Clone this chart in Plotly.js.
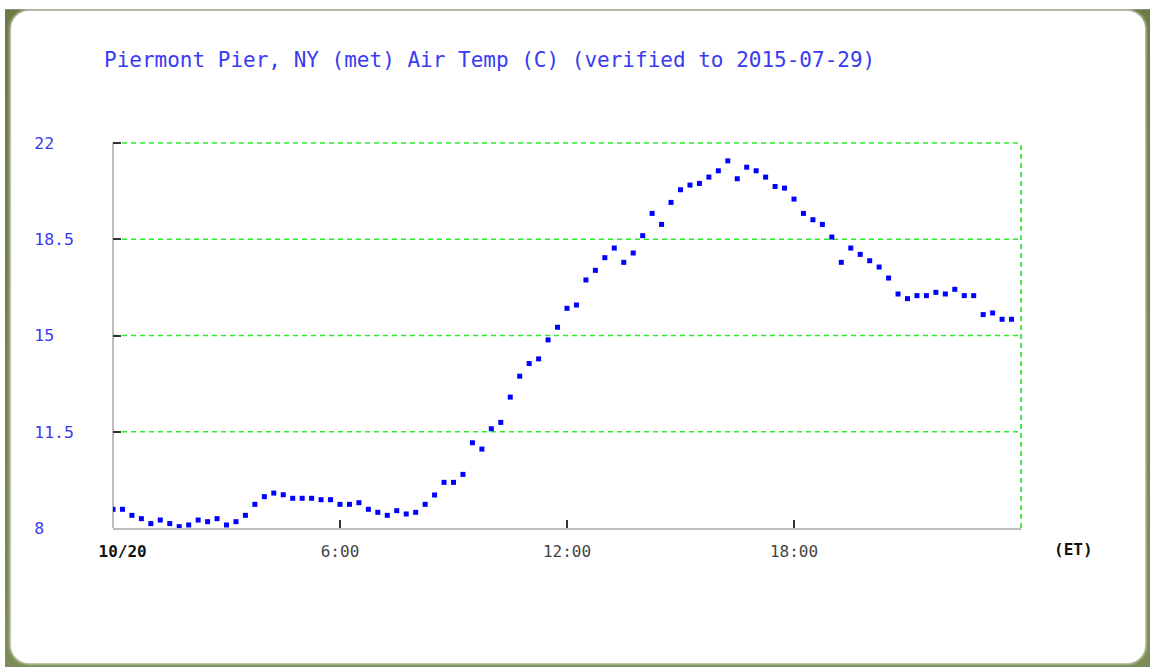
<!DOCTYPE html>
<html>
<head>
<meta charset="utf-8">
<script src="https://cdn.plot.ly/plotly-3.0.1.min.js"></script>
<style>
  html, body { margin: 0; padding: 0; background: #ffffff; }
  #wrap { position: relative; width: 1150px; height: 667px; overflow: hidden; }
  #olive { position: absolute; left: 5px; top: 9px; width: 1145px; height: 658px;
           background: linear-gradient(180deg, #6a7b43 0%, #7b8c55 100%);
           border-top: 1px solid #8a8f80; }
  #panel { position: absolute; left: 11px; top: 11px; width: 1134px; height: 652px;
           background: #ffffff; border-radius: 18px; box-shadow: 0 0 3px 1px rgba(255,255,255,0.8); }
  #chart { position: absolute; left: 0; top: 0; width: 1150px; height: 667px; }
</style>
</head>
<body>
<div id="wrap">
  <div id="olive"></div>
  <div id="panel"></div>
  <div id="chart"></div>
</div>
<script>
// Sampling: 15-minute readings starting at 00:00 on 10/20 (hours since midnight)
const START_HOUR = 0;
const STEP_HOURS = 0.25;

// Air temperature (C)
const airTempC = [
  8.68, 8.68, 8.46, 8.34, 8.16, 8.29, 8.16, 8.05, 8.11, 8.29,
  8.23, 8.34, 8.11, 8.23, 8.46, 8.86, 9.14, 9.27, 9.21, 9.08,
  9.08, 9.08, 9.03, 9.03, 8.86, 8.86, 8.92, 8.68, 8.57, 8.46,
  8.63, 8.51, 8.57, 8.86, 9.20, 9.66, 9.66, 9.95, 11.10, 10.87,
  11.61, 11.84, 12.76, 13.52, 13.98, 14.15, 14.84, 15.30, 15.99, 16.11,
  17.02, 17.37, 17.83, 18.18, 17.66, 18.00, 18.63, 19.44, 19.04, 19.84,
  20.30, 20.47, 20.53, 20.76, 20.99, 21.35, 20.70, 21.12, 20.99, 20.76,
  20.42, 20.36, 19.96, 19.44, 19.21, 19.04, 18.58, 17.66, 18.18, 17.95,
  17.72, 17.49, 17.09, 16.51, 16.34, 16.45, 16.45, 16.57, 16.51, 16.68,
  16.45, 16.45, 15.76, 15.82, 15.59, 15.59
];

const hours = airTempC.map((_, i) => START_HOUR + i * STEP_HOURS);

const xTickVals = [0, 6, 12, 18];
const xTickText = ['\u00a0\u00a0<span style="color:#111111"><b>10/20</b></span>', '6:00', '12:00', '18:00'];

const yTickVals = [8, 11.5, 15, 18.5, 22];
const yTickText = ['8\u00a0\u00a0\u00a0', '11.5', '15\u00a0\u00a0', '18.5', '22\u00a0\u00a0'];
const yGridVals = [11.5, 15, 18.5, 22];

const titleText = 'Piermont Pier, NY (met) Air Temp (C) (verified to 2015-07-29)';
const unitText = '<b>(ET)</b>';

const mono = '"DejaVu Sans Mono", "Liberation Mono", monospace';
const GRID_GREEN = '#2ee82e';
const Y_PAD = 2 / 27.5;   // 2px of headroom so the top grid line is not clipped

const trace = {
  x: hours,
  y: airTempC,
  type: 'scatter',
  mode: 'markers',
  marker: { symbol: 'square', size: 5, color: '#0000ff', line: { width: 0 } },
  hoverinfo: 'skip'
};

const gridShapes = yGridVals.map(v => ({
  type: 'line', xref: 'paper', yref: 'y',
  x0: 0, x1: 1, y0: v, y1: v, layer: 'below',
  line: { color: GRID_GREEN, width: 1.7, dash: '5px,4px' }
}));

const layout = {
  width: 1150,
  height: 667,
  margin: { l: 113, r: 129, t: 141, b: 139 },
  paper_bgcolor: 'rgba(0,0,0,0)',
  plot_bgcolor: 'rgba(0,0,0,0)',
  showlegend: false,
  title: {
    text: titleText,
    font: { family: mono, size: 21, color: '#3a3af2' },
    xref: 'container', x: 104 / 1150, xanchor: 'left',
    yref: 'container', y: 1 - 60 / 667, yanchor: 'middle'
  },
  xaxis: {
    range: [0, 24],
    showgrid: false,
    zeroline: false,
    showline: true,
    linecolor: '#bdbdbd',
    linewidth: 2,
    ticks: 'inside',
    ticklen: 8,
    tickwidth: 2,
    tickcolor: '#333333',
    tickvals: xTickVals,
    ticktext: xTickText,
    tickfont: { family: mono, size: 16, color: '#444444' },
    ticklabelstandoff: 8,
    fixedrange: true
  },
  yaxis: {
    range: [8, 22 + Y_PAD],
    showgrid: false,
    zeroline: false,
    showline: false,
    ticks: 'inside',
    ticklen: 8,
    tickwidth: 2,
    tickcolor: '#333333',
    tickvals: yTickVals,
    ticktext: yTickText,
    tickfont: { family: mono, size: 16.5, color: '#3a3af2' },
    ticklabelstandoff: 38,
    fixedrange: true
  },
  shapes: gridShapes.concat([
    {
      type: 'line', xref: 'paper', yref: 'y',
      x0: 1, x1: 1, y0: 8, y1: 22, layer: 'below',
      line: { color: GRID_GREEN, width: 1.7, dash: '5px,4px' }
    },
    {
      type: 'line', xref: 'paper', yref: 'y',
      x0: 0, x1: 0, y0: 8, y1: 22, layer: 'below',
      line: { color: '#bdbdbd', width: 2 }
    }
  ]),
  annotations: [
    {
      text: unitText, xref: 'paper', yref: 'paper',
      x: (1073 - 113) / 908, y: (528 - 549) / 387,
      xanchor: 'center', yanchor: 'middle', showarrow: false,
      font: { family: mono, size: 16, color: '#111111' }
    }
  ]
};

Plotly.newPlot('chart', [trace], layout, { displayModeBar: false, staticPlot: true });
</script>
</body>
</html>
